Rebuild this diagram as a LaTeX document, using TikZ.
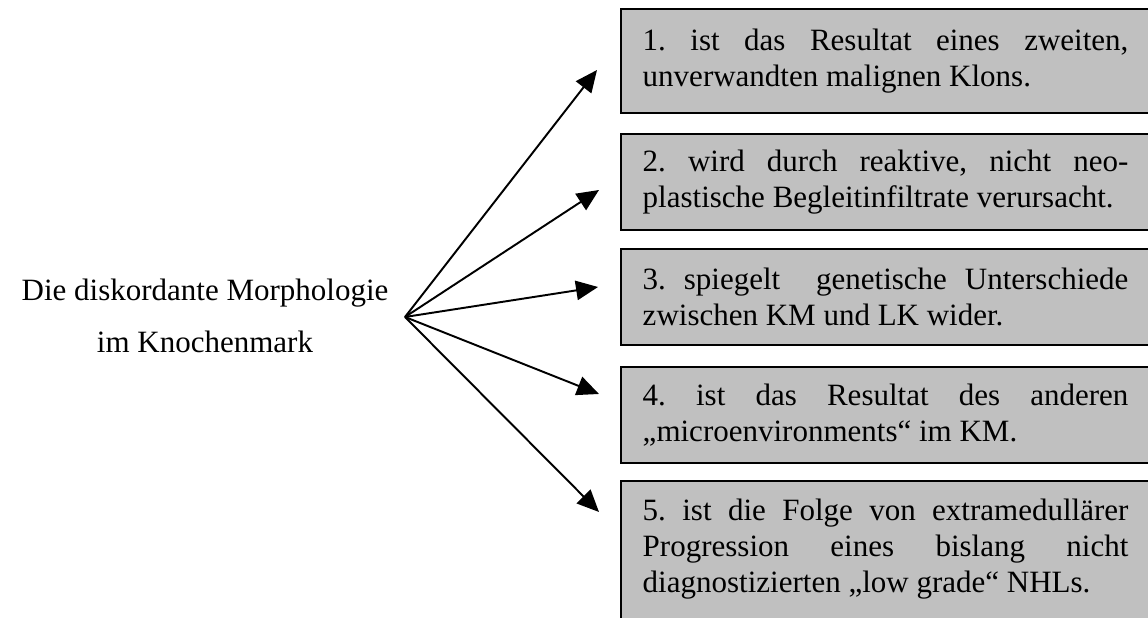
\documentclass[tikz,border=0pt]{standalone}
\usepackage{fontspec}
\setmainfont{Liberation Serif}[Ligatures={TeX,NoCommon}]
\usetikzlibrary{arrows.meta,calc}
\definecolor{boxgray}{HTML}{C0C0C0}
\hyphenpenalty=10000
\tolerance=9999
\frenchspacing

\begin{document}
\begin{tikzpicture}[x=0.3871pt,y=-0.3871pt,
	item/.style={draw=black, line width=0.6pt, fill=boxgray, anchor=north west,
		text width=188pt, align=justify, inner xsep=8.5pt, inner ysep=0pt,
		font=\fontsize{12pt}{13.9pt}\selectfont},
	fan/.style={-{Triangle[length=8.5pt,width=7.5pt]}, line width=0.75pt}]

	\useasboundingbox (0,0) rectangle (1148,618);

	\node (morph) [align=center, font=\fontsize{12pt}{20.2pt}\selectfont] at (205,316) {Die diskordante Morphologie\\im Knochenmark};
	\coordinate (root) at (405,317);

	\node (b1)[item, minimum height=40.3pt] at (620,8) {1. ist das Resultat eines zweiten,\linebreak unverwandten malignen Klons.};
	\node (b2)[item, minimum height=37.2pt] at (620,133) {2. wird durch reaktive, nicht neo-\linebreak plastische Begleitinfiltrate verursacht.};
	\node (b3)[item, minimum height=37.2pt] at (620,248) {3. spiegelt\ \ genetische Unterschiede\linebreak zwischen KM und LK wider.};
	\node (b4)[item, minimum height=37.2pt] at (620,366) {4. ist das Resultat des anderen\linebreak „microenvironments“ im KM.};
	\node (b5)[item, inner ysep=7pt, text depth=45pt] at (620,480) {5. ist die Folge von extramedullärer\linebreak Progression eines bislang nicht\linebreak diagnostizierten „low grade“ NHLs.};

	\draw [fan] (root) -- ($(b1.north west)+(-23,62)$);
	\draw [fan] (root) -- ($(b2.north west)+(-21,57)$);
	\draw [fan] (root) -- ($(b3.north west)+(-22,39)$);
	\draw [fan] (root) -- ($(b4.north west)+(-21,28)$);
	\draw [fan] (root) -- ($(b5.north west)+(-21,32)$);

\end{tikzpicture}
\end{document}
